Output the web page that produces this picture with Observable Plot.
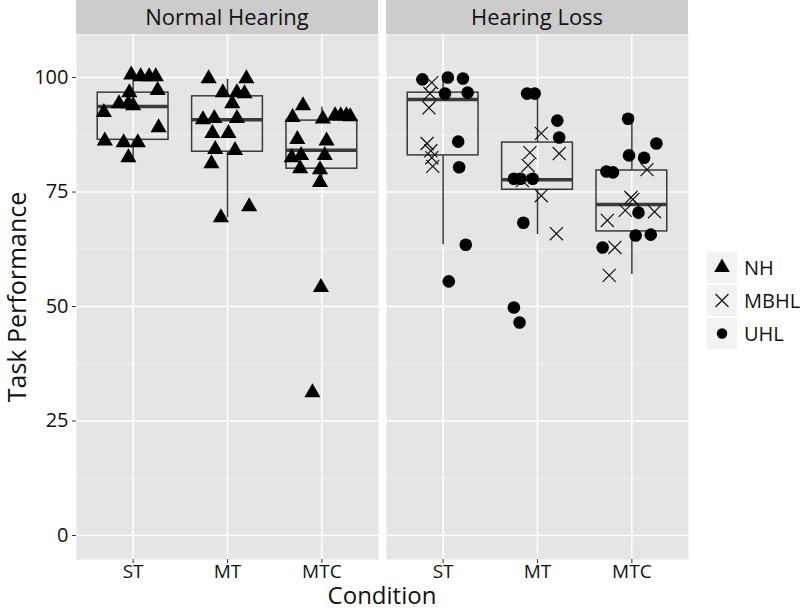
<!DOCTYPE html>
<html><head><meta charset="utf-8">
<script src="https://cdn.jsdelivr.net/npm/d3@7"></script>
<script src="https://cdn.jsdelivr.net/npm/@observablehq/plot@0.6"></script>
<style>
body{margin:0;background:#fff;font-family:"Open Sans",sans-serif;}
#wrap{position:relative;width:800px;height:612px;}
#legend{position:absolute;left:707px;top:251px;}
.key{display:flex;align-items:center;height:33px;font-size:20px;color:#111;}
.key svg{background:#F2F2F2;margin-right:7px;}
</style></head><body><div id="wrap"></div><script>
const panels = ["Normal Hearing", "Hearing Loss"];
const conditions = ["ST", "MT", "MTC"];
const groups = ["NH", "MBHL", "UHL"];

// [jitter (category units), task performance]
const NH_ST = [[-0.02,100.6],[0.08,100.2],[0.17,100.2],[0.24,100.2],[0.26,97.2],[-0.04,96.7],[-0.15,94.3],[-0.05,94.3],[0.0,93.9],[-0.31,92.4],[0.27,89.1],[-0.30,86.2],[-0.10,85.8],[0.05,85.8],[-0.05,82.5]];
const NH_MT = [[-0.20,99.8],[0.20,99.8],[-0.05,96.7],[0.10,96.7],[0.18,96.5],[0.05,94.3],[-0.26,90.8],[-0.14,91.1],[0.10,91.1],[-0.16,87.8],[0.01,87.8],[-0.13,84.3],[0.08,84.1],[-0.17,81.2],[0.23,71.8],[-0.07,69.4]];
const NH_MTC = [[-0.20,93.9],[-0.31,91.3],[0.01,91.0],[0.14,91.7],[0.20,91.7],[0.26,91.7],[0.30,91.5],[-0.26,86.5],[0.05,86.2],[-0.32,82.5],[-0.22,83.0],[0.03,83.0],[-0.23,80.1],[-0.02,79.9],[-0.02,77.1],[-0.01,54.2],[-0.10,31.2]];
const UHL_ST = [[-0.22,99.6],[0.05,100.0],[0.21,99.8],[0.02,96.5],[0.26,96.7],[0.16,86.0],[0.17,80.4],[0.24,63.5],[0.06,55.5]];
const UHL_MT = [[-0.11,96.5],[-0.03,96.5],[0.21,90.6],[0.23,86.9],[-0.25,77.9],[-0.18,77.9],[-0.05,77.9],[-0.15,68.3],[-0.25,49.8],[-0.19,46.5]];
const UHL_MTC = [[-0.04,91.0],[0.26,85.6],[-0.03,83.0],[0.13,82.5],[-0.27,79.5],[-0.20,79.3],[0.07,70.5],[0.04,65.5],[0.20,65.7],[-0.31,62.9]];
const MBHL_ST = [[-0.12,98.9],[-0.14,96.5],[-0.15,93.4],[-0.17,85.6],[-0.13,84.0],[-0.12,82.5],[-0.11,80.6]];
const MBHL_MT = [[0.04,87.8],[-0.08,83.6],[0.23,83.4],[-0.10,80.8],[-0.16,77.5],[0.04,74.2],[0.20,65.9]];
const MBHL_MTC = [[0.16,79.9],[-0.01,73.8],[0.01,73.4],[-0.07,71.0],[0.24,70.7],[-0.26,68.8],[-0.18,62.9],[-0.24,56.8]];

// box statistics
const boxPanel = ["Normal Hearing","Normal Hearing","Normal Hearing","Hearing Loss","Hearing Loss","Hearing Loss"];
const boxCondition = ["ST","MT","MTC","ST","MT","MTC"];
const boxLow = [82.5, 69.4, 77.1, 63.5, 65.7, 57.0];
const boxQ1 = [86.4, 83.8, 80.1, 83.0, 75.5, 66.4];
const boxMedian = [93.7, 90.8, 84.1, 95.2, 77.7, 72.3];
const boxQ3 = [96.7, 95.9, 90.6, 96.7, 85.8, 79.7];
const boxHigh = [100.4, 99.6, 93.5, 99.6, 96.5, 91.0];
const yTicks = [0, 25, 50, 75, 100];

const points = [];
function add(panel, group, cond, arr) {
  arr.forEach(([j, v]) => points.push({panel, group, condition: cond, ci: conditions.indexOf(cond) + 1, jitter: j, value: v}));
}
add("Normal Hearing", "NH", "ST", NH_ST);
add("Normal Hearing", "NH", "MT", NH_MT);
add("Normal Hearing", "NH", "MTC", NH_MTC);
add("Hearing Loss", "MBHL", "ST", MBHL_ST);
add("Hearing Loss", "MBHL", "MT", MBHL_MT);
add("Hearing Loss", "MBHL", "MTC", MBHL_MTC);
add("Hearing Loss", "UHL", "ST", UHL_ST);
add("Hearing Loss", "UHL", "MT", UHL_MT);
add("Hearing Loss", "UHL", "MTC", UHL_MTC);

const boxes = boxPanel.map((p, i) => ({panel: p, ci: conditions.indexOf(boxCondition[i]) + 1,
  lo: boxLow[i], q1: boxQ1[i], med: boxMedian[i], q3: boxQ3[i], hi: boxHigh[i]}));

const BW = 0.375, boxStroke = "#3a3a3a";
const px = d => d.ci + d.jitter;

const plot = Plot.plot({
  width: 800, height: 612,
  marginLeft: 75, marginRight: 111, marginTop: 34, marginBottom: 53,
  style: {fontFamily: "'Open Sans', sans-serif", fontSize: "19px", color: "#111", background: "transparent"},
  fx: {domain: panels, paddingInner: 0.0257, paddingOuter: 0, axis: null, label: null},
  x: {domain: [0.4, 3.6], label: null},
  y: {domain: [-5.24, 109.4], label: null},
  marks: [
    Plot.frame({fill: "#E5E5E5", stroke: null}),
    Plot.gridY([12.5, 37.5, 62.5, 87.5], {stroke: "#F2F2F2", strokeOpacity: 1, strokeWidth: 0.8}),
    Plot.gridY(yTicks, {stroke: "#fff", strokeOpacity: 1, strokeWidth: 1.5}),
    Plot.gridX([1, 2, 3], {stroke: "#fff", strokeOpacity: 1, strokeWidth: 1.5}),
    Plot.axisY(yTicks, {tickSize: 4, tickPadding: 4, stroke: "#333", fontSize: 20, label: null}),
    Plot.axisX([1, 2, 3], {tickSize: 4, tickPadding: 1, stroke: "#333", fontSize: 19, tickFormat: d => conditions[d - 1], label: null}),
    Plot.ruleX(boxes, {fx: "panel", x: "ci", y1: "q3", y2: "hi", stroke: boxStroke, strokeWidth: 1.5}),
    Plot.ruleX(boxes, {fx: "panel", x: "ci", y1: "lo", y2: "q1", stroke: boxStroke, strokeWidth: 1.5}),
    Plot.rect(boxes, {fx: "panel", x1: d => d.ci - BW, x2: d => d.ci + BW, y1: "q1", y2: "q3", fill: "none", stroke: boxStroke, strokeWidth: 1.5}),
    Plot.ruleY(boxes, {fx: "panel", y: "med", x1: d => d.ci - BW, x2: d => d.ci + BW, stroke: boxStroke, strokeWidth: 3.5}),
    Plot.dot(points.filter(d => d.group === "NH"), {fx: "panel", x: px, y: "value", symbol: "triangle", fill: "#000", r: 6}),
    Plot.dot(points.filter(d => d.group === "UHL"), {fx: "panel", x: px, y: "value", symbol: "circle", fill: "#000", r: 6.3}),
    Plot.dot(points.filter(d => d.group === "MBHL"), {fx: "panel", x: px, y: "value", symbol: "times", stroke: "#111", strokeWidth: 1.2, r: 6})
  ]
});

const wrap = document.getElementById("wrap");
wrap.appendChild(plot);

// strips and axis titles
const svg = d3.select(plot);
const fxs = plot.scale("fx");
const bwd = fxs.bandwidth;
panels.forEach(p => {
  const x0 = fxs.apply(p);
  svg.append("rect").attr("x", x0).attr("y", 0).attr("width", bwd).attr("height", 34).attr("fill", "#CCCCCC");
  svg.append("text").attr("x", x0 + bwd / 2).attr("y", 17).attr("dy", "0.36em").attr("text-anchor", "middle")
    .attr("font-size", 22).attr("fill", "#111").text(p);
});
svg.append("text").attr("x", 382).attr("y", 604).attr("text-anchor", "middle").attr("font-size", 24).attr("fill", "#111").text("Condition");
svg.append("text").attr("transform", "translate(26,297) rotate(-90)").attr("text-anchor", "middle").attr("font-size", 25).attr("fill", "#111").text("Task Performance");

// legend
const legend = document.createElement("div");
legend.id = "legend";
const shapes = {NH: d3.symbolTriangle, MBHL: d3.symbolTimes, UHL: d3.symbolCircle};
const sizes = {NH: Math.PI * 5.8 * 5.8, MBHL: Math.PI * 6 * 6, UHL: Math.PI * 5.2 * 5.2};
groups.forEach(g => {
  const row = document.createElement("div");
  row.className = "key";
  const s = d3.create("svg").attr("width", 30).attr("height", 31);
  const path = s.append("path").attr("transform", "translate(15,15.5)").attr("d", d3.symbol(shapes[g], sizes[g])());
  if (g === "MBHL") path.attr("fill", "none").attr("stroke", "#111").attr("stroke-width", 1.2);
  else path.attr("fill", "#000");
  row.appendChild(s.node());
  const t = document.createElement("span");
  t.textContent = g;
  row.appendChild(t);
  legend.appendChild(row);
});
wrap.appendChild(legend);
</script></body></html>
